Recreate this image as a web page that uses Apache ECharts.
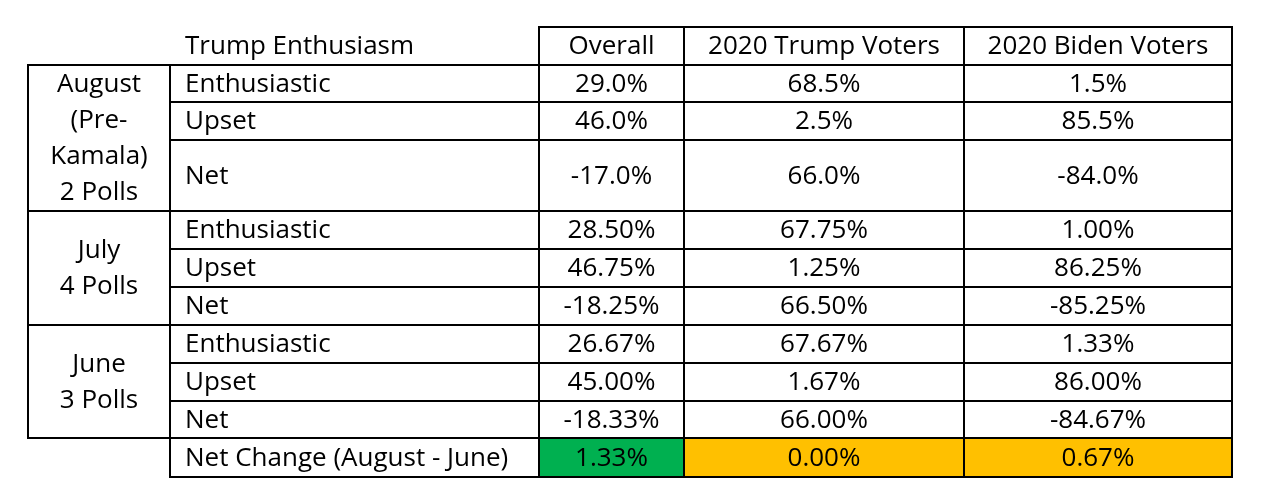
<!DOCTYPE html>
<html>
<head>
<meta charset="utf-8">
<script src="https://cdn.jsdelivr.net/npm/echarts@6/dist/echarts.min.js"></script>
<style>
html,body{margin:0;padding:0;background:#fff;}
#chart{width:1274px;height:502px;}
</style>
</head>
<body>
<div id="chart"></div>
<script>
// ---- data ----
const cornerLabel = 'Trump Enthusiasm';
const columnLabels = ['Overall', '2020 Trump Voters', '2020 Biden Voters'];
const measures = ['Enthusiastic', 'Upset', 'Net'];
const periodLabels = ['August\n(Pre-\nKamala)\n2 Polls', 'July\n4 Polls', 'June\n3 Polls'];
const augustValues = [[29.0, 68.5, 1.5], [46.0, 2.5, 85.5], [-17.0, 66.0, -84.0]];
const julyValues = [[28.50, 67.75, 1.00], [46.75, 1.25, 86.25], [-18.25, 66.50, -85.25]];
const juneValues = [[26.67, 67.67, 1.33], [45.00, 1.67, 86.00], [-18.33, 66.00, -84.67]];
const netChangeLabel = 'Net Change (August - June)';
const netChangeValues = [1.33, 0.00, 0.67];
const periodDecimals = [1, 2, 2];

// ---- layout / style ----
const colEdges = [28, 170, 539, 684, 964, 1232];
const headerRow = [27, 65];
const periodRowEdges = [
  [65, 102, 140, 211],
  [211, 249, 287, 325],
  [325, 363, 401, 438]
];
const netRow = [438, 477];
const netFills = ['#00B050', '#FFC000', '#FFC000'];
const FONT = '"Open Sans", "Noto Sans", sans-serif';
const FONT_SIZE = 26;

const periods = [augustValues, julyValues, juneValues];
const cells = [];
// header
cells.push({x0: colEdges[1], x1: colEdges[2], y0: headerRow[0], y1: headerRow[1], text: cornerLabel, align: 'left', border: false});
columnLabels.forEach((c, j) => cells.push({x0: colEdges[j + 2], x1: colEdges[j + 3], y0: headerRow[0], y1: headerRow[1], text: c, align: 'center', border: true}));
periods.forEach((vals, p) => {
  const re = periodRowEdges[p];
  cells.push({x0: colEdges[0], x1: colEdges[1], y0: re[0], y1: re[3], text: periodLabels[p], align: 'center', border: true});
  measures.forEach((m, r) => {
    cells.push({x0: colEdges[1], x1: colEdges[2], y0: re[r], y1: re[r + 1], text: m, align: 'left', border: true});
    vals[r].forEach((v, j) => cells.push({x0: colEdges[j + 2], x1: colEdges[j + 3], y0: re[r], y1: re[r + 1], text: v.toFixed(periodDecimals[p]) + '%', align: 'center', border: true}));
  });
});
cells.push({x0: colEdges[1], x1: colEdges[2], y0: netRow[0], y1: netRow[1], text: netChangeLabel, align: 'left', border: true});
netChangeValues.forEach((v, j) => cells.push({x0: colEdges[j + 2], x1: colEdges[j + 3], y0: netRow[0], y1: netRow[1], text: v.toFixed(2) + '%', align: 'center', border: true, fill: netFills[j]}));

const chart = echarts.init(document.getElementById('chart'), null, {renderer: 'canvas'});
chart.setOption({
  animation: false,
  backgroundColor: '#fff',
  grid: {left: 0, right: 0, top: 0, bottom: 0},
  xAxis: {type: 'value', min: 0, max: 1274, show: false},
  yAxis: {type: 'value', min: 0, max: 502, inverse: true, show: false},
  series: [{
    type: 'custom',
    data: cells.map((c, i) => [c.x0, c.y0, c.x1, c.y1]),
    renderItem: function (params, api) {
      const c = cells[params.dataIndex];
      const p0 = api.coord([api.value(0), api.value(1)]);
      const p1 = api.coord([api.value(2), api.value(3)]);
      const children = [];
      if (c.fill || c.border) {
        children.push({
          type: 'rect',
          shape: {x: p0[0], y: p0[1], width: p1[0] - p0[0], height: p1[1] - p0[1]},
          style: {fill: c.fill || 'rgba(0,0,0,0)', stroke: c.border ? '#000' : null, lineWidth: c.border ? 2 : 0}
        });
      }
      const tx = c.align === 'left' ? p0[0] + 15 : (p0[0] + p1[0]) / 2;
      children.push({
        type: 'text',
        style: {
          x: tx, y: (p0[1] + p1[1]) / 2 + 1,
          text: c.text, fill: '#000',
          font: FONT_SIZE + 'px ' + FONT,
          align: c.align, verticalAlign: 'middle', lineHeight: 36
        }
      });
      return {type: 'group', children: children};
    }
  }]
});
</script>
</body>
</html>
